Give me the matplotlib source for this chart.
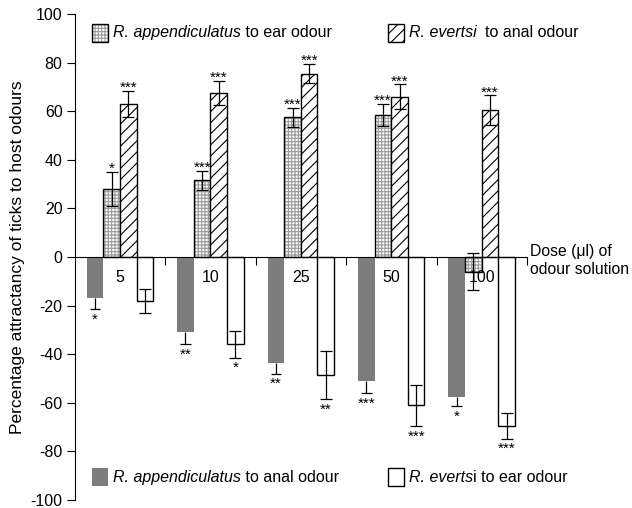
import numpy as np
import matplotlib
matplotlib.use("Agg")
import matplotlib.pyplot as plt
from matplotlib.patches import Rectangle

plt.rcParams["font.family"] = ["Liberation Sans", "DejaVu Sans"]
plt.rcParams["axes.unicode_minus"] = False
plt.rcParams["hatch.linewidth"] = 0.8

# values (percentage attractancy)
doses = ["5", "10", "25", "50", "100"]
app_anal = [-17, -31, -43.5, -51, -57.5]
app_anal_err = [4.5, 5, 4.5, 5, 4]
app_anal_sig = ["*", "**", "**", "***", "*"]
app_ear = [28, 31.5, 57.5, 58.5, -6]
app_ear_err = [7, 4, 4, 4.5, 7.5]
app_ear_sig = ["*", "***", "***", "***", ""]
ev_anal = [63, 67.5, 75.5, 66, 60.5]
ev_anal_err = [5.5, 5, 4, 5, 6]
ev_anal_sig = ["***", "***", "***", "***", "***"]
ev_ear = [-18, -36, -48.5, -61, -69.5]
ev_ear_err = [5, 5.5, 10, 8.5, 5.3]
ev_ear_sig = ["", "*", "**", "***", "***"]

GREY = "#7d7d7d"
DOT = "#9a9a9a"
W = 0.184
START = 0.13

fig = plt.figure(figsize=(6.32, 5.08), dpi=100)
ax = fig.add_axes([75 / 632, 8 / 508, 452 / 632, 486 / 508])

g = np.arange(len(doses))
x_ga = g + START
x_ae = g + START + W
x_ea = g + START + 2 * W
x_ee = g + START + 3 * W

ax.bar(x_ga, app_anal, W, align="edge", color=GREY, linewidth=0, zorder=2)
ax.bar(x_ae, app_ear, W, align="edge", color="white", edgecolor=DOT,
       hatch="+++++", linewidth=0, zorder=2)
ax.bar(x_ae, app_ear, W, align="edge", fill=False, edgecolor="black",
       linewidth=1, zorder=2)
ax.bar(x_ea, ev_anal, W, align="edge", color="white", edgecolor="black",
       hatch="///", linewidth=1, zorder=2)
ax.bar(x_ee, ev_ear, W, align="edge", color="white", edgecolor="black",
       linewidth=1, zorder=2)

# error bars (grey bars only show the outer half)
cap = W * 0.32
xc = x_ga + W / 2
lo = np.array(app_anal) - np.array(app_anal_err)
ax.vlines(xc, app_anal, lo, color="black", lw=0.9, zorder=3)
ax.hlines(lo, xc - cap, xc + cap, color="black", lw=0.9, zorder=3)
for xs, vals, errs in [(x_ae, app_ear, app_ear_err), (x_ea, ev_anal, ev_anal_err),
                       (x_ee, ev_ear, ev_ear_err)]:
    ax.errorbar(xs + W / 2, vals, yerr=errs, fmt="none", ecolor="black",
                elinewidth=0.9, capsize=4, capthick=0.9, zorder=3)

# significance stars
def stars(xs, vals, errs, sigs):
    for x, v, e, s in zip(xs, vals, errs, sigs):
        if not s:
            continue
        if v > 0:
            ax.annotate(s, (x + W / 2, v + e), xytext=(0, 2), textcoords="offset points",
                        ha="center", va="center", fontsize=11)
        else:
            ax.annotate(s, (x + W / 2, v - e), xytext=(0, -7.5), textcoords="offset points",
                        ha="center", va="center", fontsize=11)

stars(x_ga, app_anal, app_anal_err, app_anal_sig)
stars(x_ae, app_ear, app_ear_err, app_ear_sig)
stars(x_ea, ev_anal, ev_anal_err, ev_anal_sig)
stars(x_ee, ev_ear, ev_ear_err, ev_ear_sig)

# dose labels
for i, d in enumerate(doses):
    ax.text(i + 0.5, -8.6, d, ha="center", va="center", fontsize=11.5)
ax.text(5.03, -1.5, "Dose (\u03bcl) of\nodour solution", ha="left", va="center",
        fontsize=11.3, linespacing=1.2, clip_on=False)

# axes styling
ax.set_xlim(0, 5)
ax.set_ylim(-100, 100)
ax.set_yticks(np.arange(-100, 101, 20))
ax.set_xticks([1, 2, 3, 4, 5])
ax.set_xticklabels([])
ax.spines["top"].set_visible(False)
ax.spines["right"].set_visible(False)
ax.spines["bottom"].set_position(("data", 0))
ax.tick_params(axis="y", direction="out", length=6, labelsize=11.5, pad=3)
ax.tick_params(axis="x", direction="out", length=6)
ax.set_ylabel("Percentage attractancy of ticks to host odours", fontsize=12.5, labelpad=4)

# legend drawn in the plot area
def legend_item(x, y, text_it, text_up, **style):
    ax.add_patch(Rectangle((x, y - 3.6), 0.18, 7.2, zorder=2, **style))
    t = ax.text(x + 0.23, y, text_it, ha="left", va="center", fontsize=11.5,
                style="italic")
    ax.annotate(text_up, xy=(1, 0), xycoords=t, ha="left", va="bottom", fontsize=11.5)

ax.add_patch(Rectangle((0.19, 88.6), 0.18, 7.2, facecolor="white", edgecolor=DOT,
                       hatch="+++++", linewidth=0, zorder=2))
legend_item(0.19, 92.2, "R. appendiculatus", " to ear odour", fill=False,
            edgecolor="black", linewidth=1)
legend_item(3.46, 92.2, "R. evertsi", "  to anal odour", facecolor="white",
            edgecolor="black", hatch="///", linewidth=1)
legend_item(0.19, -90.6, "R. appendiculatus", " to anal odour", facecolor=GREY,
            linewidth=0)
legend_item(3.46, -90.6, "R. everts", "i to ear odour", facecolor="white",
            edgecolor="black", linewidth=1)

fig.savefig("out.png", dpi=100)
